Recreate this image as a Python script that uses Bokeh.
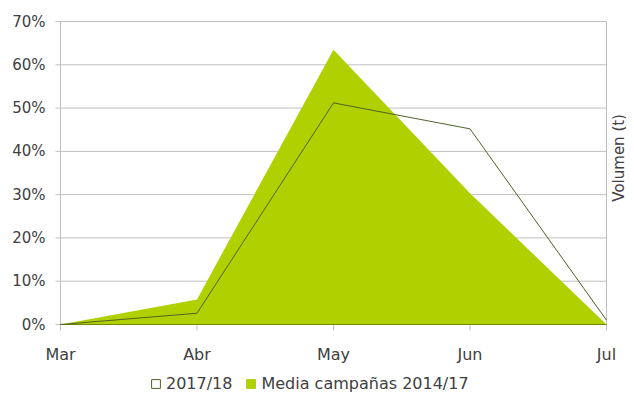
import math
from bokeh.plotting import figure
from bokeh.models import Range1d, Legend, LegendItem, ColumnDataSource, Label
from bokeh.core.properties import value
from bokeh.embed import file_html
from bokeh.resources import INLINE

months = ["Mar", "Abr", "May", "Jun", "Jul"]
media_1417 = [0.0, 5.8, 63.5, 30.3, 0.0]      # %
campaign_1718 = [0.0, 2.6, 51.2, 45.2, 1.0]   # %
y_ticks = [0, 10, 20, 30, 40, 50, 60, 70]     # %

FONT = "DejaVu Sans"
TXT = "#404040"
GRID = "#bfbfbf"
GREEN = "#b0d000"
OLIVE = "#4f6228"
BASE = "#6f8a00"

W, H = 626, 393
# layout in pixels
X0_PX, XN_PX = 60, 606      # where first / last month sit
Y0_PX, YT_PX = 324, 21      # where 0% / 70% sit (from top)

n = len(months)
xs = list(range(n))
ymax = y_ticks[-1] / 100
kx = (XN_PX - X0_PX) / (n - 1)          # px per x unit
ky = (Y0_PX - YT_PX) / ymax             # px per y unit

x_range = Range1d(-X0_PX / kx, (n - 1) + (W - XN_PX) / kx)
y_range = Range1d(-(H - Y0_PX) / ky, ymax + YT_PX / ky)

def px_x(d):  # pixel length -> x data length
    return d / kx

def px_y(d):
    return d / ky

src = ColumnDataSource(dict(
    x=xs,
    media=[v / 100 for v in media_1417],
    camp=[v / 100 for v in campaign_1718],
    zero=[0] * n,
))

p = figure(width=W, height=H, output_backend="svg", toolbar_location=None,
           x_range=x_range, y_range=y_range,
           min_border_left=0, min_border_right=0, min_border_top=0, min_border_bottom=0)
p.outline_line_color = None
p.xaxis.visible = False
p.yaxis.visible = False
p.xgrid.grid_line_color = None
p.ygrid.grid_line_color = None

yt = [t / 100 for t in y_ticks]

# horizontal gridlines between first and last month
p.segment(x0=[xs[0]] * len(yt), x1=[xs[-1]] * len(yt), y0=yt, y1=yt, line_color=GRID, line_width=1)
# y tick marks
p.segment(x0=[xs[0]] * len(yt), x1=[xs[0] - px_x(5)] * len(yt), y0=yt, y1=yt, line_color=GRID, line_width=1)
# vertical axis lines (left and right)
p.segment(x0=[xs[0], xs[-1]], x1=[xs[0], xs[-1]], y0=[-px_y(6)] * 2, y1=[ymax] * 2,
          line_color=GRID, line_width=1)
# x tick marks
p.segment(x0=xs, x1=xs, y0=[0] * n, y1=[-px_y(6)] * n, line_color=GRID, line_width=1)

# legend-only renderers (degenerate boxes at the origin, invisible in the plot)
d1 = p.quad(left=[xs[0]], right=[xs[0]], top=[0], bottom=[0],
            fill_color="white", line_color=OLIVE, line_width=1)
d2 = p.quad(left=[xs[0]], right=[xs[0]], top=[0], bottom=[0],
            fill_color=GREEN, line_color=GREEN, line_width=1)

area = p.varea(x="x", y1="zero", y2="media", source=src, fill_color=GREEN)
# base line along 0%
p.line(x=[xs[0], xs[-1]], y=[0, 0], line_color=BASE, line_width=1)
line = p.line(x="x", y="camp", source=src, line_color=OLIVE, line_width=1)

# y tick labels
p.text(x=[xs[0]] * len(yt), y=yt, text=[f"{t}%" for t in y_ticks],
       text_align="right", text_baseline="middle", x_offset=-15,
       text_font=value(FONT), text_font_size=value("15px"), text_color=TXT)
# x tick labels
p.text(x=xs, y=[-px_y(30)] * n, text=months,
       text_align="center", text_baseline="middle",
       text_font=value(FONT), text_font_size=value("16px"), text_color=TXT)

# right axis title
p.add_layout(Label(x=xs[-1], y=0.385, x_offset=3, text="Volumen (t)", angle=math.pi / 2,
                   text_align="center", text_baseline="top",
                   text_font=FONT, text_font_size="15px", text_color=TXT))

legend = Legend(items=[LegendItem(label="2017/18", renderers=[d1]),
                       LegendItem(label="Media campañas 2014/17", renderers=[d2])],
                orientation="horizontal", location=(150, 0))
legend.label_text_font = FONT
legend.label_text_font_size = "16px"
legend.label_text_color = TXT
legend.label_height = 16
legend.glyph_width = 11
legend.glyph_height = 11
legend.label_standoff = 5
legend.spacing = 13
legend.padding = 0
legend.margin = 0
legend.border_line_color = None
legend.background_fill_alpha = 0
p.add_layout(legend, "center")

open("out.html", "w").write(file_html(p, INLINE))
